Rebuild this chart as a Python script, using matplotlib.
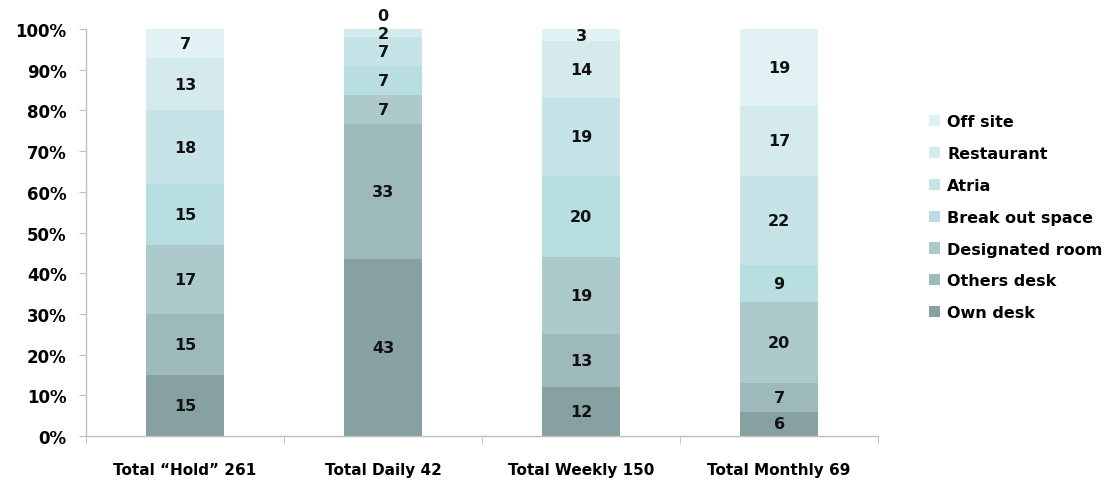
import matplotlib
matplotlib.use("Agg")
import matplotlib.pyplot as plt
import numpy as np

categories = ["Total \u201cHold\u201d 261", "Total Daily 42", "Total Weekly 150", "Total Monthly 69"]
series_names = ["Own desk", "Others desk", "Designated room", "Break out space",
                "Atria", "Restaurant", "Off site"]
own_desk = [15, 43, 12, 6]
others_desk = [15, 33, 13, 7]
designated_room = [17, 7, 19, 20]
break_out_space = [15, 7, 20, 9]
atria = [18, 7, 19, 22]
restaurant = [13, 2, 14, 17]
off_site = [7, 0, 3, 19]
y_ticks = [0, 10, 20, 30, 40, 50, 60, 70, 80, 90, 100]

series = [own_desk, others_desk, designated_room, break_out_space, atria, restaurant, off_site]
colors = ["#87A0A2", "#9DB9BB", "#ACC9CC", "#B9DEE2", "#C6E4E7", "#D4EAED", "#E2F1F3"]

plt.rcParams["font.family"] = ["DejaVu Sans"]

fig = plt.figure(figsize=(11.18, 4.85), dpi=100)
ax = fig.add_axes([0.0769, 0.099, 0.7085, 0.839])

data = np.array(series, dtype=float)
totals = data.sum(axis=0)
shares = data / totals * 100.0

x = np.arange(len(categories))
width = 0.395
bottom = np.zeros(len(categories))
label_pos = [[] for _ in categories]
for vals, share, name, col in zip(series, shares, series_names, colors):
    ax.bar(x, share, width, bottom=bottom, color=col, label=name, linewidth=0)
    for i in range(len(categories)):
        label_pos[i].append((bottom[i] + share[i] / 2.0, vals[i]))
    bottom += share

# value labels, nudged upward when they would collide
min_gap = 4.3
for i, items in enumerate(label_pos):
    prev = -100.0
    for center, v in items:
        y = max(center, prev + min_gap)
        prev = y
        ax.text(x[i], y, f"{v}", ha="center", va="center", fontsize=11.5,
                fontweight="bold", color="#111111", clip_on=False)

ax.set_xlim(-0.5, len(categories) - 0.5)
ax.set_ylim(0, 100)
ax.set_yticks(y_ticks)
ax.set_yticklabels([f"{t}%" for t in y_ticks], fontsize=12, fontweight="bold")
ax.set_xticks(x)
ax.set_xticklabels(categories, fontsize=11, fontweight="bold")
ax.tick_params(axis="x", which="major", length=0, pad=19)
ax.set_xticks(np.arange(-0.5, len(categories)), minor=True)
ax.tick_params(axis="x", which="minor", length=6, color="#BFBFBF", direction="out")
ax.tick_params(axis="y", length=5, color="#BFBFBF", direction="out", pad=9)

for side in ["top", "right"]:
    ax.spines[side].set_visible(False)
for side in ["left", "bottom"]:
    ax.spines[side].set_color("#BFBFBF")
    ax.spines[side].set_linewidth(1.0)

handles, labels = ax.get_legend_handles_labels()
leg = fig.legend(handles[::-1], labels[::-1], loc="center left",
                 bbox_to_anchor=(0.818, 0.55), frameon=False,
                 prop={"size": 11.5, "weight": "bold"}, handlelength=0.7,
                 handleheight=0.7, handletextpad=0.45, labelspacing=1.05)

fig.savefig("out.png", dpi=100)
